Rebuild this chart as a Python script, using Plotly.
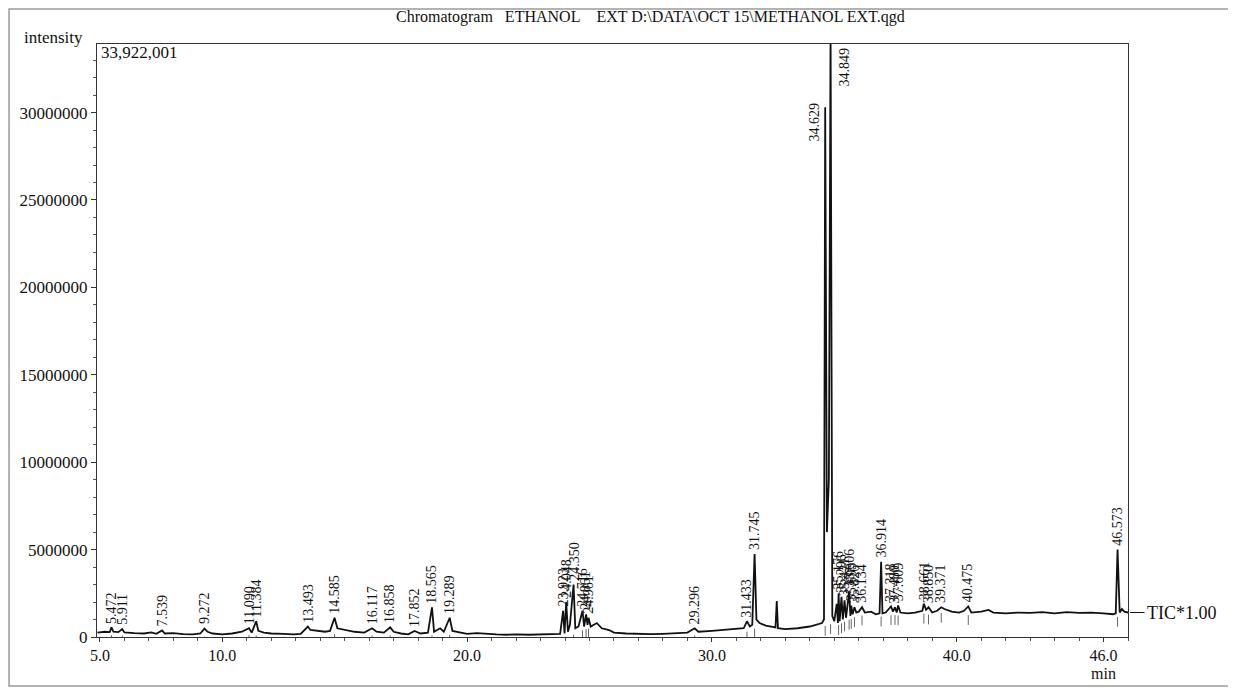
import plotly.graph_objects as go

# ---- data ----
time_min = [
    4.90, 5.20, 5.40, 5.472, 5.55, 5.75, 5.911, 6.00, 6.40, 6.80, 7.10, 7.30, 7.539, 7.65,
    8.00, 8.40, 8.80, 9.10, 9.272, 9.40, 9.60, 10.00, 10.40, 10.80, 11.090, 11.20, 11.384,
    11.47, 11.70, 12.00, 12.50, 12.90, 13.20, 13.493, 13.60, 13.90, 14.20, 14.40, 14.585,
    14.70, 15.00, 15.40, 15.80, 16.117, 16.30, 16.60, 16.858, 17.00, 17.30, 17.60, 17.852,
    18.10, 18.40, 18.565, 18.65, 18.90, 19.05, 19.289, 19.40, 19.70, 20.00, 20.40, 20.80,
    21.20, 21.60, 22.00, 22.50, 23.00, 23.50, 23.80, 23.923, 23.98, 24.048, 24.12, 24.20,
    24.350, 24.42, 24.55, 24.716, 24.78, 24.861, 24.92, 24.961, 25.05, 25.30, 25.50, 25.80,
    26.00, 26.50, 27.00, 27.50, 28.00, 28.50, 29.00, 29.296, 29.45, 30.00, 30.50, 31.00,
    31.30, 31.433, 31.55, 31.65, 31.745, 31.82, 31.95, 32.20, 32.50, 32.60, 32.65, 32.70,
    33.00, 33.50, 34.00, 34.30, 34.50, 34.58, 34.629, 34.70, 34.78, 34.849, 34.92, 35.00,
    35.10, 35.15, 35.176, 35.22, 35.296, 35.35, 35.421, 35.48, 35.55, 35.606, 35.66, 35.693,
    35.75, 35.826, 35.90, 36.00, 36.134, 36.25, 36.50, 36.70, 36.85, 36.914, 36.97, 37.10,
    37.318, 37.40, 37.48, 37.55, 37.609, 37.70, 38.00, 38.30, 38.60, 38.661, 38.75, 38.85,
    39.00, 39.20, 39.371, 39.50, 39.80, 40.10, 40.30, 40.475, 40.60, 41.00, 41.30, 41.50,
    42.00, 42.50, 43.00, 43.50, 44.00, 44.50, 45.00, 45.50, 46.00, 46.40, 46.50, 46.573,
    46.66, 46.75, 46.85, 47.00,
]
intensity = [
    250000, 300000, 280000, 550000, 300000, 280000, 450000, 260000, 220000, 200000, 260000, 180000, 380000, 200000,
    220000, 160000, 150000, 200000, 480000, 300000, 200000, 150000, 200000, 300000, 500000, 250000, 900000,
    350000, 250000, 200000, 180000, 150000, 180000, 600000, 400000, 350000, 300000, 350000, 1100000,
    500000, 400000, 300000, 250000, 500000, 300000, 250000, 550000, 300000, 200000, 150000, 350000,
    200000, 250000, 1700000, 300000, 500000, 300000, 1100000, 350000, 250000, 180000, 220000, 170000,
    150000, 130000, 150000, 130000, 150000, 160000, 180000, 1500000, 200000, 2000000, 300000, 700000,
    3000000, 500000, 600000, 1500000, 600000, 1300000, 700000, 1100000, 600000, 800000, 500000, 400000,
    250000, 200000, 170000, 160000, 180000, 200000, 250000, 500000, 300000, 350000, 400000, 450000,
    500000, 900000, 600000, 700000, 4750000, 1000000, 800000, 650000, 550000, 550000, 2050000, 500000,
    450000, 500000, 600000, 700000, 800000, 1000000, 30300000, 6000000, 9000000, 35000000, 1200000, 900000,
    1900000, 800000, 2500000, 900000, 2300000, 1000000, 2100000, 1100000, 1900000, 2600000, 1200000, 1800000,
    1300000, 1700000, 1400000, 1450000, 1700000, 1400000, 1450000, 1300000, 1350000, 4300000, 1350000, 1400000,
    1750000, 1450000, 1700000, 1400000, 1800000, 1400000, 1350000, 1400000, 1500000, 1900000, 1550000, 1700000,
    1400000, 1500000, 1700000, 1600000, 1450000, 1400000, 1500000, 1750000, 1400000, 1450000, 1550000, 1400000,
    1350000, 1400000, 1380000, 1420000, 1350000, 1420000, 1380000, 1400000, 1350000, 1300000, 1350000, 5000000,
    1400000, 1600000, 1450000, 1400000,
]

# labelled peaks: retention time, apex intensity, baseline under the peak
peak_labels = [
    "5.472", "5.911", "7.539", "9.272", "11.090", "11.384", "13.493", "14.585", "16.117", "16.858",
    "17.852", "18.565", "19.289", "23.923", "24.048", "24.350", "24.716", "24.861", "24.961", "29.296",
    "31.433", "31.745", "34.629", "34.849", "35.176", "35.296", "35.421", "35.606", "35.693", "35.826",
    "36.134", "36.914", "37.318", "37.480", "37.609", "38.661", "38.850", "39.371", "40.475", "46.573",
]
peak_time = [
    5.472, 5.911, 7.539, 9.272, 11.090, 11.384, 13.493, 14.585, 16.117, 16.858,
    17.852, 18.565, 19.289, 23.923, 24.048, 24.350, 24.716, 24.861, 24.961, 29.296,
    31.433, 31.745, 34.629, 34.849, 35.176, 35.296, 35.421, 35.606, 35.693, 35.826,
    36.134, 36.914, 37.318, 37.480, 37.609, 38.661, 38.850, 39.371, 40.475, 46.573,
]
peak_apex = [
    550000, 450000, 380000, 480000, 500000, 900000, 600000, 1100000, 500000, 550000,
    350000, 1700000, 1100000, 1500000, 2000000, 3000000, 1500000, 1300000, 1100000, 500000,
    900000, 4750000, 30300000, 33922001, 2500000, 2300000, 2100000, 2600000, 1800000, 1700000,
    1700000, 4300000, 1750000, 1700000, 1800000, 1900000, 1700000, 1700000, 1750000, 5000000,
]
peak_base = [
    280000, 260000, 190000, 190000, 280000, 260000, 180000, 340000, 260000, 260000,
    160000, 260000, 290000, 170000, 180000, 300000, 550000, 620000, 650000, 260000,
    480000, 650000, 800000, 900000, 850000, 950000, 1050000, 1150000, 1200000, 1300000,
    1400000, 1330000, 1420000, 1420000, 1400000, 1500000, 1450000, 1550000, 1420000, 1320000,
]

y_ticks = [0, 5000000, 10000000, 15000000, 20000000, 25000000, 30000000]
y_tick_text = ["0", "5000000", "10000000", "15000000", "20000000", "25000000", "30000000"]
x_ticks = [5.0, 10.0, 20.0, 30.0, 40.0, 46.0]
x_tick_text = ["5.0", "10.0", "20.0", "30.0", "40.0", "46.0"]
y_max = 33922001

SERIF = "Liberation Serif"
INK = "#111111"

fig = go.Figure()
fig.add_trace(go.Scatter(
    x=time_min, y=intensity, mode="lines",
    line=dict(color=INK, width=1.8), hoverinfo="x+y", showlegend=False,
))
# peak start markers just under the baseline
fig.add_trace(go.Scatter(
    x=peak_time, y=[b - 450000 for b in peak_base], mode="markers",
    marker=dict(symbol="line-ns-open", size=7, color="#666666",
                line=dict(color="#666666", width=1)),
    hoverinfo="skip", showlegend=False,
))

annotations = []
for lab, t, h in zip(peak_labels, peak_time, peak_apex):
    if h >= y_max:
        annotations.append(dict(x=t, y=y_max, text=lab, textangle=-90, showarrow=False,
                                xanchor="left", yanchor="top", xshift=4, yshift=-2,
                                font=dict(family=SERIF, size=14, color=INK)))
    elif h > 20000000:
        annotations.append(dict(x=t, y=h, text=lab, textangle=-90, showarrow=False,
                                xanchor="right", yanchor="bottom", xshift=-1, yshift=-36,
                                font=dict(family=SERIF, size=14, color=INK)))
    else:
        annotations.append(dict(x=t, y=h, text=lab, textangle=-90, showarrow=False,
                                xanchor="center", yanchor="bottom", yshift=2,
                                font=dict(family=SERIF, size=14, color=INK)))

annotations += [
    dict(xref="paper", yref="paper", x=0.5364, y=1.0, yshift=27, text=(
        "Chromatogram\u00a0\u00a0\u00a0ETHANOL\u00a0\u00a0\u00a0\u00a0EXT D:\\DATA\\OCT 15\\METHANOL EXT.qgd"),
        showarrow=False, xanchor="center", yanchor="middle",
        font=dict(family=SERIF, size=16, color=INK)),
    dict(xref="paper", yref="paper", x=-0.0727, y=1.0118, text="intensity", showarrow=False,
         xanchor="left", yanchor="middle", font=dict(family=SERIF, size=17, color=INK)),
    dict(xref="paper", yref="paper", x=0.002, y=0.985, text="33,922,001", showarrow=False,
         xanchor="left", yanchor="middle", font=dict(family=SERIF, size=17, color=INK)),
    dict(x=46.0, xref="x", yref="paper", y=-0.062, text="min", showarrow=False,
         xanchor="center", yanchor="middle", font=dict(family=SERIF, size=16, color=INK)),
    dict(xref="paper", x=1.0165, y=1400000, text="TIC*1.00", showarrow=False,
         xanchor="left", yanchor="middle", font=dict(family=SERIF, size=18, color=INK)),
]

shapes = [
    dict(type="line", xref="paper", yref="y", x0=1.002, x1=1.016, y0=1400000, y1=1400000,
         line=dict(color=INK, width=1)),
    dict(type="rect", xref="paper", yref="paper", x0=-0.0853, x1=1.1008, y0=-0.0825, y1=1.0590,
         line=dict(color="#9a9a9a", width=1.5), layer="below"),
]

fig.update_layout(
    width=1228, height=682,
    margin=dict(l=89, r=108, t=36, b=53),
    paper_bgcolor="white", plot_bgcolor="white",
    font=dict(family=SERIF, size=17, color=INK),
    annotations=annotations, shapes=shapes,
    showlegend=False,
)
fig.update_xaxes(
    range=[4.88, 47.0], tickmode="array", tickvals=x_ticks, ticktext=x_tick_text,
    showgrid=False, zeroline=False, showline=True, linecolor="#333", linewidth=1.2, mirror=True,
    ticks="outside", ticklen=4, tickcolor="#333",
    minor=dict(dtick=1, tick0=0, ticks="outside", ticklen=3, tickcolor="#555"),
    tickfont=dict(family=SERIF, size=16, color=INK),
)
fig.update_yaxes(
    range=[0, y_max], tickmode="array", tickvals=y_ticks, ticktext=y_tick_text,
    showgrid=False, zeroline=False, showline=True, linecolor="#333", linewidth=1.2, mirror=True,
    ticks="outside", ticklen=5, tickcolor="#333",
    minor=dict(dtick=1000000, tick0=0, ticks="outside", ticklen=3, tickcolor="#555"),
    tickfont=dict(family=SERIF, size=17, color=INK),
)

fig.write_html("out.html")
